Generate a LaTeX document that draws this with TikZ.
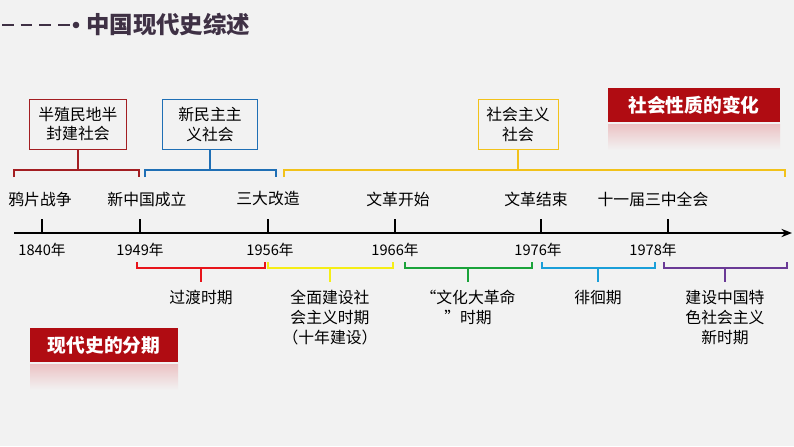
\documentclass[tikz,border=0pt]{standalone}
\usepackage{fontspec}
\setmainfont{Noto Sans CJK SC}
\usetikzlibrary{arrows.meta}
\definecolor{bgcol}{HTML}{F2F2F2}
\definecolor{titlecol}{HTML}{3F3145}
\definecolor{redc}{HTML}{A31E22}
\definecolor{bluec}{HTML}{1F6FB5}
\definecolor{yelc}{HTML}{F2C21A}
\definecolor{redb}{HTML}{E8141B}
\definecolor{yelb}{HTML}{F5EE16}
\definecolor{greenb}{HTML}{1AA33A}
\definecolor{cyanb}{HTML}{1A9FD9}
\definecolor{purpb}{HTML}{6A3A96}
\definecolor{boxred}{HTML}{B00C12}
\newcommand{\midfont}{\fontsize{13.5}{17}\selectfont}
\tikzset{
  sbox/.style={draw=#1, fill=bgcol, minimum width=2.9cm, minimum height=1.5cm, align=center, font=\midfont, inner sep=1pt},
  event/.style={font=\midfont},
  year/.style={font=\fontsize{12.5}{15}\selectfont},
  period/.style={font=\midfont, align=center, anchor=north, inner sep=0pt},
  tag/.style={fill=boxred, text=white, font=\fontsize{16}{19}\selectfont\bfseries, minimum height=1cm, inner sep=4pt},
}
\begin{document}
\begin{tikzpicture}[x=0.03cm, y=-0.03cm]
\useasboundingbox (0,0) rectangle (794,446);
\fill[bgcol] (0,0) rectangle (794,446);
% Title
\draw[titlecol, line width=1.6pt, dash pattern=on 10pt off 6pt] (2,25) -- (70,25);
\fill[titlecol] (76,25) circle (3.3);
\node[text=titlecol, font=\fontsize{20}{24}\selectfont\bfseries, anchor=west] (title) at (82,25) {中国现代史综述};
% Society boxes
\node[sbox=redc] (soc-1) at (78,124) {半殖民地半\\封建社会};
\node[sbox=bluec, minimum width=2.85cm] (soc-2) at (210,124) {新民主主\\义社会};
\node[sbox=yelc, minimum width=2.4cm] (soc-3) at (518,124) {社会主义\\社会};
% Top brackets
\draw[redc, line width=1.5pt] (14,177) -- (14,170) -- (139,170) -- (139,177);
\draw[redc, line width=1.5pt] (soc-1.south) -- (78,170);
\draw[bluec, line width=1.5pt] (145,177) -- (145,170) -- (276,170) -- (276,177);
\draw[bluec, line width=1.5pt] (soc-2.south) -- (210,170);
\draw[yelc, line width=1.5pt] (284,177) -- (284,170) -- (785,170) -- (785,177);
\draw[yelc, line width=1.5pt] (soc-3.south) -- (518,170);
% Events
\foreach \t/\x in {鸦片战争/40, 新中国成立/147, 三大改造/268, 文革开始/398, 文革结束/536, 十一届三中全会/653}
  \node[event] (ev-\x) at (\x,199) {\t};
% Axis
\coordinate (ax-start) at (14,233);
\coordinate (ax-end) at (792,233);
\draw[line width=2pt, -{Stealth[length=9pt,width=7pt]}] (ax-start) -- (ax-end);
\foreach \x in {42,140,268,395,541,668}
  \draw[line width=2pt] (\x,233) -- (\x,219);
\foreach \t/\x in {1840/42, 1949/140, 1956/270, 1966/395, 1976/538, 1978/653}
  \node[year] (yr-\t) at (\x,250) {\t 年};
% Bottom brackets
\foreach \a/\b/\c/\m in {137/265/redb/201, 268/393/yelb/330, 405/532/greenb/468, 542/655/cyanb/598, 664/787/purpb/725}
  \draw[\c, line width=1.5pt] (\a,262) -- (\a,268) -- (\b,268) -- (\b,262) (\m,268) -- (\m,282);
\node[period] (per-1) at (201,290) {过渡时期};
\node[period] (per-2) at (330,290) {全面建设社\\会主义时期\\（十年建设）};
\node[period] (per-3) at (468,290) {“文化大革命\\”时期};
\node[period] (per-4) at (598,290) {徘徊期};
\node[period] (per-5) at (725,290) {建设中国特\\色社会主义\\新时期};
% Tags
\node[tag, minimum width=5.16cm] (tag-1) at (694,105) {社会性质的变化};
\shade[top color=boxred!25, bottom color=bgcol] (608,124) rectangle (780,150);
\node[tag, minimum width=4.44cm] (tag-2) at (104,345) {现代史的分期};
\shade[top color=boxred!25, bottom color=bgcol] (30,364) rectangle (178,390);
\end{tikzpicture}
\end{document}
